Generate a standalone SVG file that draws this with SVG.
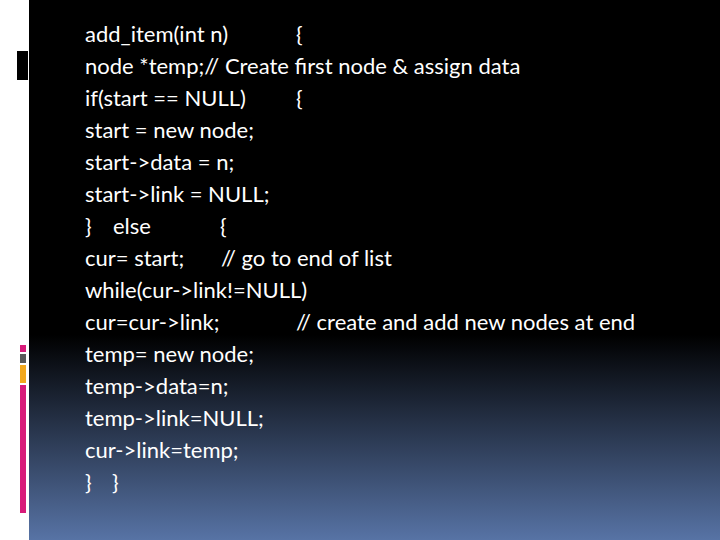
<svg xmlns="http://www.w3.org/2000/svg" width="720" height="540" viewBox="0 0 720 540">
<defs>
<linearGradient id="bg" x1="0" y1="0" x2="0" y2="540" gradientUnits="userSpaceOnUse">
<stop offset="0" stop-color="#000"/><stop offset="0.62" stop-color="#000"/><stop offset="1" stop-color="#5773a5"/>
</linearGradient>
<style>text{font-family:Lato,"Open Sans",sans-serif;font-size:22px;fill:#fff}</style>
</defs>
<rect width="720" height="540" fill="#fff"/>
<rect x="29" y="0" width="691" height="540" fill="url(#bg)"/>
<rect x="17" y="51" width="11" height="29" fill="#000"/>
<rect x="20" y="345" width="6" height="7" fill="#d81b7a"/>
<rect x="20" y="354" width="6" height="9" fill="#595959"/>
<rect x="20" y="365" width="6" height="18" fill="#f2a81d"/>
<rect x="20" y="385" width="6" height="128" fill="#d81b7a"/>
<g id="code">
<text x="85" y="42">add_item(int n)</text><text x="296" y="42">{</text>
<text x="85" y="74">node *temp;// Create first node &amp; assign data</text>
<text x="85" y="106">if(start == NULL)</text><text x="296" y="106">{</text>
<text x="85" y="138">start = new node;</text>
<text x="85" y="170">start-&gt;data = n;</text>
<text x="85" y="202">start-&gt;link = NULL;</text>
<text x="85" y="234">}</text><text x="113" y="234">else</text><text x="220" y="234">{</text>
<text x="85" y="266">cur= start;</text><text x="221" y="266">// go to end of list</text>
<text x="85" y="298">while(cur-&gt;link!=NULL)</text>
<text x="85" y="330">cur=cur-&gt;link;</text><text x="296" y="330">// create and add new nodes at end</text>
<text x="85" y="362">temp= new node;</text>
<text x="85" y="394">temp-&gt;data=n;</text>
<text x="85" y="426">temp-&gt;link=NULL;</text>
<text x="85" y="458">cur-&gt;link=temp;</text>
<text x="85" y="490">}</text><text x="112" y="490">}</text>
</g>
</svg>
